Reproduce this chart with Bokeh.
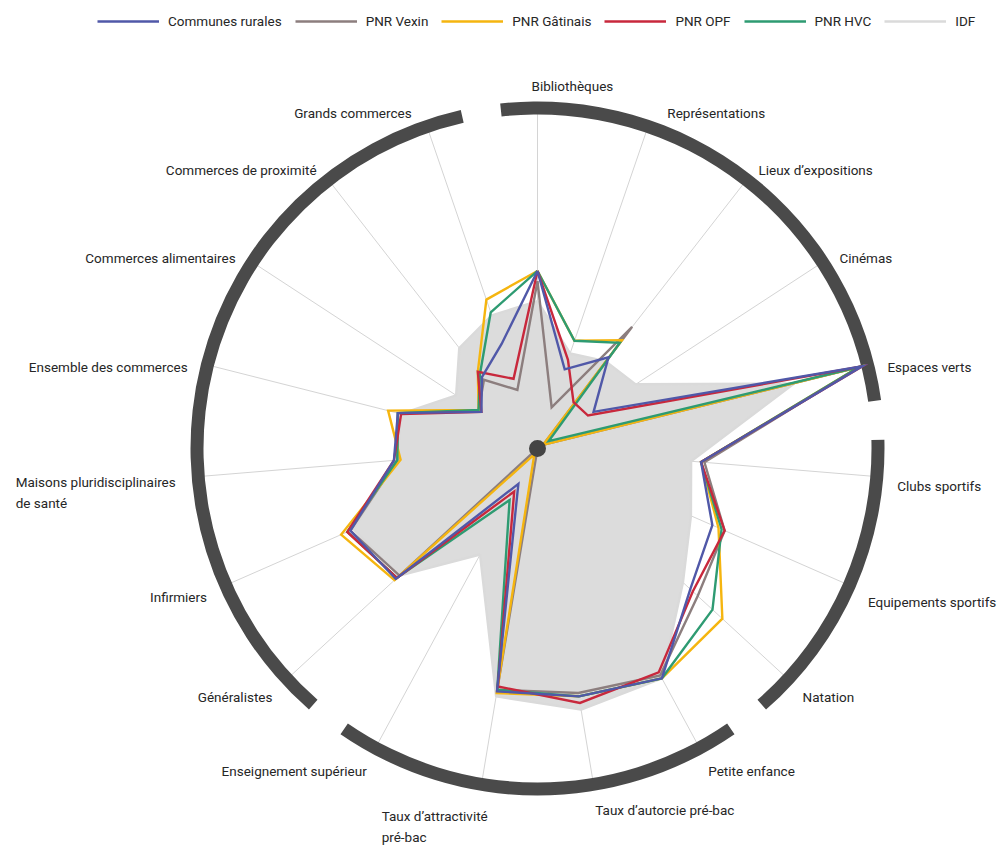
import math
from bokeh.plotting import figure
from bokeh.models import Range1d, ColumnDataSource, Legend, LegendItem
from bokeh.core.properties import value
from bokeh.embed import file_html
from bokeh.resources import INLINE

# ---------------- data ----------------
categories = [
    "Bibliothèques", "Représentations", "Lieux d’expositions", "Cinémas",
    "Espaces verts", "Clubs sportifs", "Equipements sportifs", "Natation",
    "Petite enfance", "Taux d’autorcie pré-bac", "Taux d’attractivité\npré-bac",
    "Enseignement supérieur", "Généralistes", "Infirmiers",
    "Maisons pluridisciplinaires\nde santé", "Ensemble des commerces",
    "Commerces alimentaires", "Commerces de proximité", "Grands commerces",
]
groups = [0, 0, 0, 0, 0, 1, 1, 1, 2, 2, 2, 2, 3, 3, 3, 3, 3, 3, 3]

communes_rurales = [0.53, 0.25, 0.345, 0.20, 1.00, 0.49, 0.57, 0.62, 0.78, 0.75, 0.735, 0.12, 0.575, 0.61, 0.43, 0.43, 0.20, 0.27, 0.33]
pnr_vexin        = [0.50, 0.13, 0.46, 0.02, 0.99, 0.50, 0.61, 0.65, 0.77, 0.74, 0.73, 0.00, 0.56, 0.61, 0.42, 0.43, 0.21, 0.26, 0.185]
pnr_gatinais     = [0.53, 0.34, 0.41, 0.02, 0.99, 0.49, 0.59, 0.75, 0.78, 0.75, 0.74, 0.02, 0.58, 0.64, 0.41, 0.46, 0.21, 0.29, 0.47]
pnr_opf          = [0.53, 0.28, 0.175, 0.18, 1.00, 0.49, 0.61, 0.63, 0.76, 0.77, 0.72, 0.146, 0.57, 0.62, 0.43, 0.42, 0.20, 0.29, 0.22]
pnr_hvc          = [0.53, 0.34, 0.40, 0.04, 0.99, 0.49, 0.60, 0.71, 0.78, 0.75, 0.73, 0.175, 0.57, 0.62, 0.42, 0.43, 0.21, 0.28, 0.43]
idf              = [0.44, 0.30, 0.33, 0.35, 0.79, 0.46, 0.50, 0.59, 0.78, 0.79, 0.75, 0.36, 0.56, 0.60, 0.42, 0.42, 0.29, 0.38, 0.42]

series_names = ["Communes rurales", "PNR Vexin", "PNR Gâtinais", "PNR OPF", "PNR HVC", "IDF"]
series_values = [communes_rurales, pnr_vexin, pnr_gatinais, pnr_opf, pnr_hvc, idf]
series_colors = ["#5058a8", "#8c7e7e", "#f5b50f", "#c8283c", "#2e9b72", "#dadada"]
draw_order = [1, 2, 4, 3, 0]  # lines drawn over the IDF area

# ---------------- layout ----------------
R = 335.0            # radius of value 1.0
RING_IN, RING_OUT = 334.0, 347.0
LABEL_R = 363.0
W, H = 998, 845
CX, CY = 537, 448    # centre of the radar on the canvas
# small label nudges (dx, dy) in pixels, y up
label_nudge = {0: (0, 8), 1: (14, 0), 6: (0, -5), 10: (8, -8), 14: (-2, 3), 18: (-10, 0)}

n = len(categories)
step = 360.0 / n
theta = [k * step for k in range(n)]   # clockwise from top, degrees


def polar(vals):
    xs = [v * R * math.sin(math.radians(t)) for v, t in zip(vals, theta)]
    ys = [v * R * math.cos(math.radians(t)) for v, t in zip(vals, theta)]
    return xs + xs[:1], ys + ys[:1]


p = figure(width=W, height=H, x_range=Range1d(-CX, W - CX), y_range=Range1d(CY - H, CY),
           output_backend="svg", toolbar_location=None, min_border=0,
           x_axis_location=None, y_axis_location=None)
p.outline_line_color = None
p.grid.visible = False
p.background_fill_color = "white"

# spokes
p.segment(x0=[0] * n, y0=[0] * n,
          x1=[R * math.sin(math.radians(t)) for t in theta],
          y1=[R * math.cos(math.radians(t)) for t in theta],
          line_color="#d4d4d4", line_width=1)

# group arcs (ring)
ext = step / 2 - 3.3
for g in sorted(set(groups)):
    ks = [k for k in range(n) if groups[k] == g]
    a = theta[ks[0]] - ext
    b = theta[ks[-1]] + ext
    p.annular_wedge(x=0, y=0, inner_radius=RING_IN, outer_radius=RING_OUT,
                    start_angle=math.radians(90 - b), end_angle=math.radians(90 - a),
                    direction="anticlock", fill_color="#4a4a4a", line_color=None)

renderers = {}
# IDF area
ix, iy = polar(idf)
p.patch(ix, iy, fill_color="#dcdcdc", line_color=None)
renderers[5] = p.line(ix, iy, line_color=series_colors[5], line_width=2.5)

for i in draw_order:
    xs, ys = polar(series_values[i])
    renderers[i] = p.line(xs, ys, line_color=series_colors[i], line_width=2.4,
                          line_join="miter")

# centre dot
p.scatter([0], [0], size=17, fill_color="#444444", line_color=None)

# labels
LINE_STEP = 18
left_src = dict(x=[], y=[], text=[])
right_src = dict(x=[], y=[], text=[])
for k, (t, lab) in enumerate(zip(theta, categories)):
    s, c = math.sin(math.radians(t)), math.cos(math.radians(t))
    dx, dy = label_nudge.get(k, (0, 0))
    nlines = lab.count("\n") + 1
    x = LABEL_R * s + dx
    y = LABEL_R * c - (8 if c > -0.1 else 3) + dy - (nlines - 1) * LINE_STEP / 2
    if s >= -1e-9:
        right_src["x"].append(x - (6 if k == 0 else 2))
        right_src["y"].append(y)
        right_src["text"].append(lab)
    else:
        left_src["x"].append(x + 2)
        left_src["y"].append(y)
        left_src["text"].append(lab)

common = dict(text_font=value("Roboto"), text_font_size="13.5px", text_color="#262626",
              text_align="left", text_line_height=1.32)
p.text(x="x", y="y", text="text", source=ColumnDataSource(right_src),
       anchor="center_left", **common)
p.text(x="x", y="y", text="text", source=ColumnDataSource(left_src),
       anchor="center_right", **common)

legend = Legend(
    items=[LegendItem(label=series_names[i], renderers=[renderers[i]]) for i in range(6)],
    orientation="horizontal", location=(97, 816),
    glyph_width=62, glyph_height=14, label_standoff=9, spacing=13,
    padding=0, margin=0, border_line_color=None, background_fill_alpha=0,
    label_text_font="Roboto", label_text_font_size="13.5px", label_text_color="#262626",
)
p.add_layout(legend)

open("out.html", "w").write(file_html(p, INLINE))
